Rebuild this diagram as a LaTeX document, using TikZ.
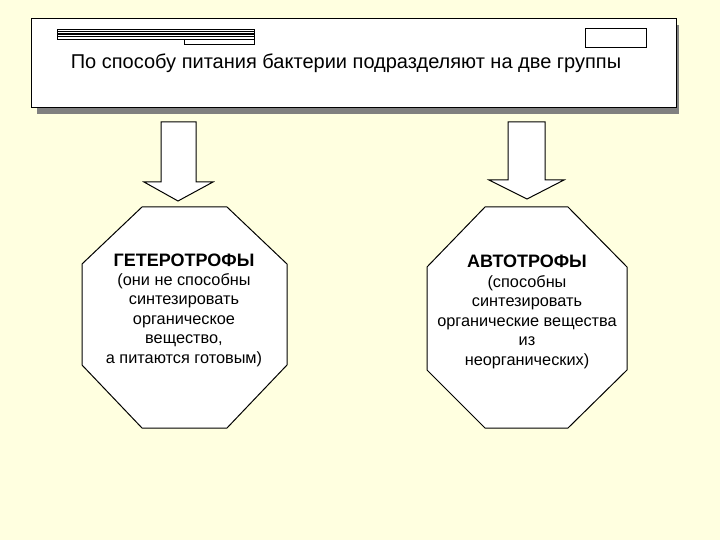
\documentclass[tikz,border=0pt]{standalone}
\usepackage{fontspec}
\setmainfont{Liberation Sans}
\begin{document}
\begin{tikzpicture}[x=1pt,y=-1pt,
  line width=1pt,
  shp/.style={draw=black,fill=white,line join=miter},
  bdy/.style={font=\fontsize{16.3}{19.5}\selectfont,align=center,inner sep=0pt},
  ttl/.style={font=\fontsize{18}{20}\selectfont\bfseries,inner sep=0pt}]
\definecolor{bgyel}{RGB}{255,255,224}
\definecolor{shad}{RGB}{128,128,128}
\fill[bgyel] (0,0) rectangle (720,540);
\useasboundingbox (0,0) rectangle (720,540);
% header box with shadow
\fill[shad] (37,25) rectangle (679,114);
\draw[shp] (31,19) rectangle (676,108);
% decorative lines
\draw[line width=0.9pt] (57,29) rectangle (254,39);
\draw[line width=0.9pt] (57,31.5) -- (254,31.5);
\draw[line width=1.3pt] (57,34) -- (254,34);
\draw[line width=0.9pt] (57,36.5) -- (254,36.5);
\draw[line width=0.9pt] (184,39) rectangle (254,44);
\draw[line width=0.9pt] (585,28) rectangle (646,47);
\node[font=\fontsize{20}{24}\selectfont,inner sep=0pt] (head) at (346,63) {По способу питания бактерии подразделяют на две группы};
% arrows
\draw[shp] (161,122) -- (196,122) -- (196,182) -- (213,182) -- (178,201) -- (144,182) -- (161,182) -- cycle;
\draw[shp] (508,122) -- (545,122) -- (545,180) -- (564,180) -- (527,199) -- (489,180) -- (508,180) -- cycle;
% octagons
\draw[shp] (142,207) -- (227,207) -- (287,264) -- (287,365) -- (227,428) -- (142,428) -- (82,365) -- (82,264) -- cycle;
\draw[shp] (485,207) -- (568,207) -- (627,267) -- (627,370) -- (568,428) -- (485,428) -- (427,370) -- (427,267) -- cycle;
\node[ttl] (ht) at (184,260) {ГЕТЕРОТРОФЫ};
\node[bdy] (hb) at (184,320) {(они не способны\\синтезировать\\органическое\\вещество,\\а питаются готовым)};
\node[ttl] (at) at (527,261) {АВТОТРОФЫ};
\node[bdy] (ab) at (527,322) {(способны\\синтезировать\\органические вещества\\из\\неорганических)};
\end{tikzpicture}
\end{document}
